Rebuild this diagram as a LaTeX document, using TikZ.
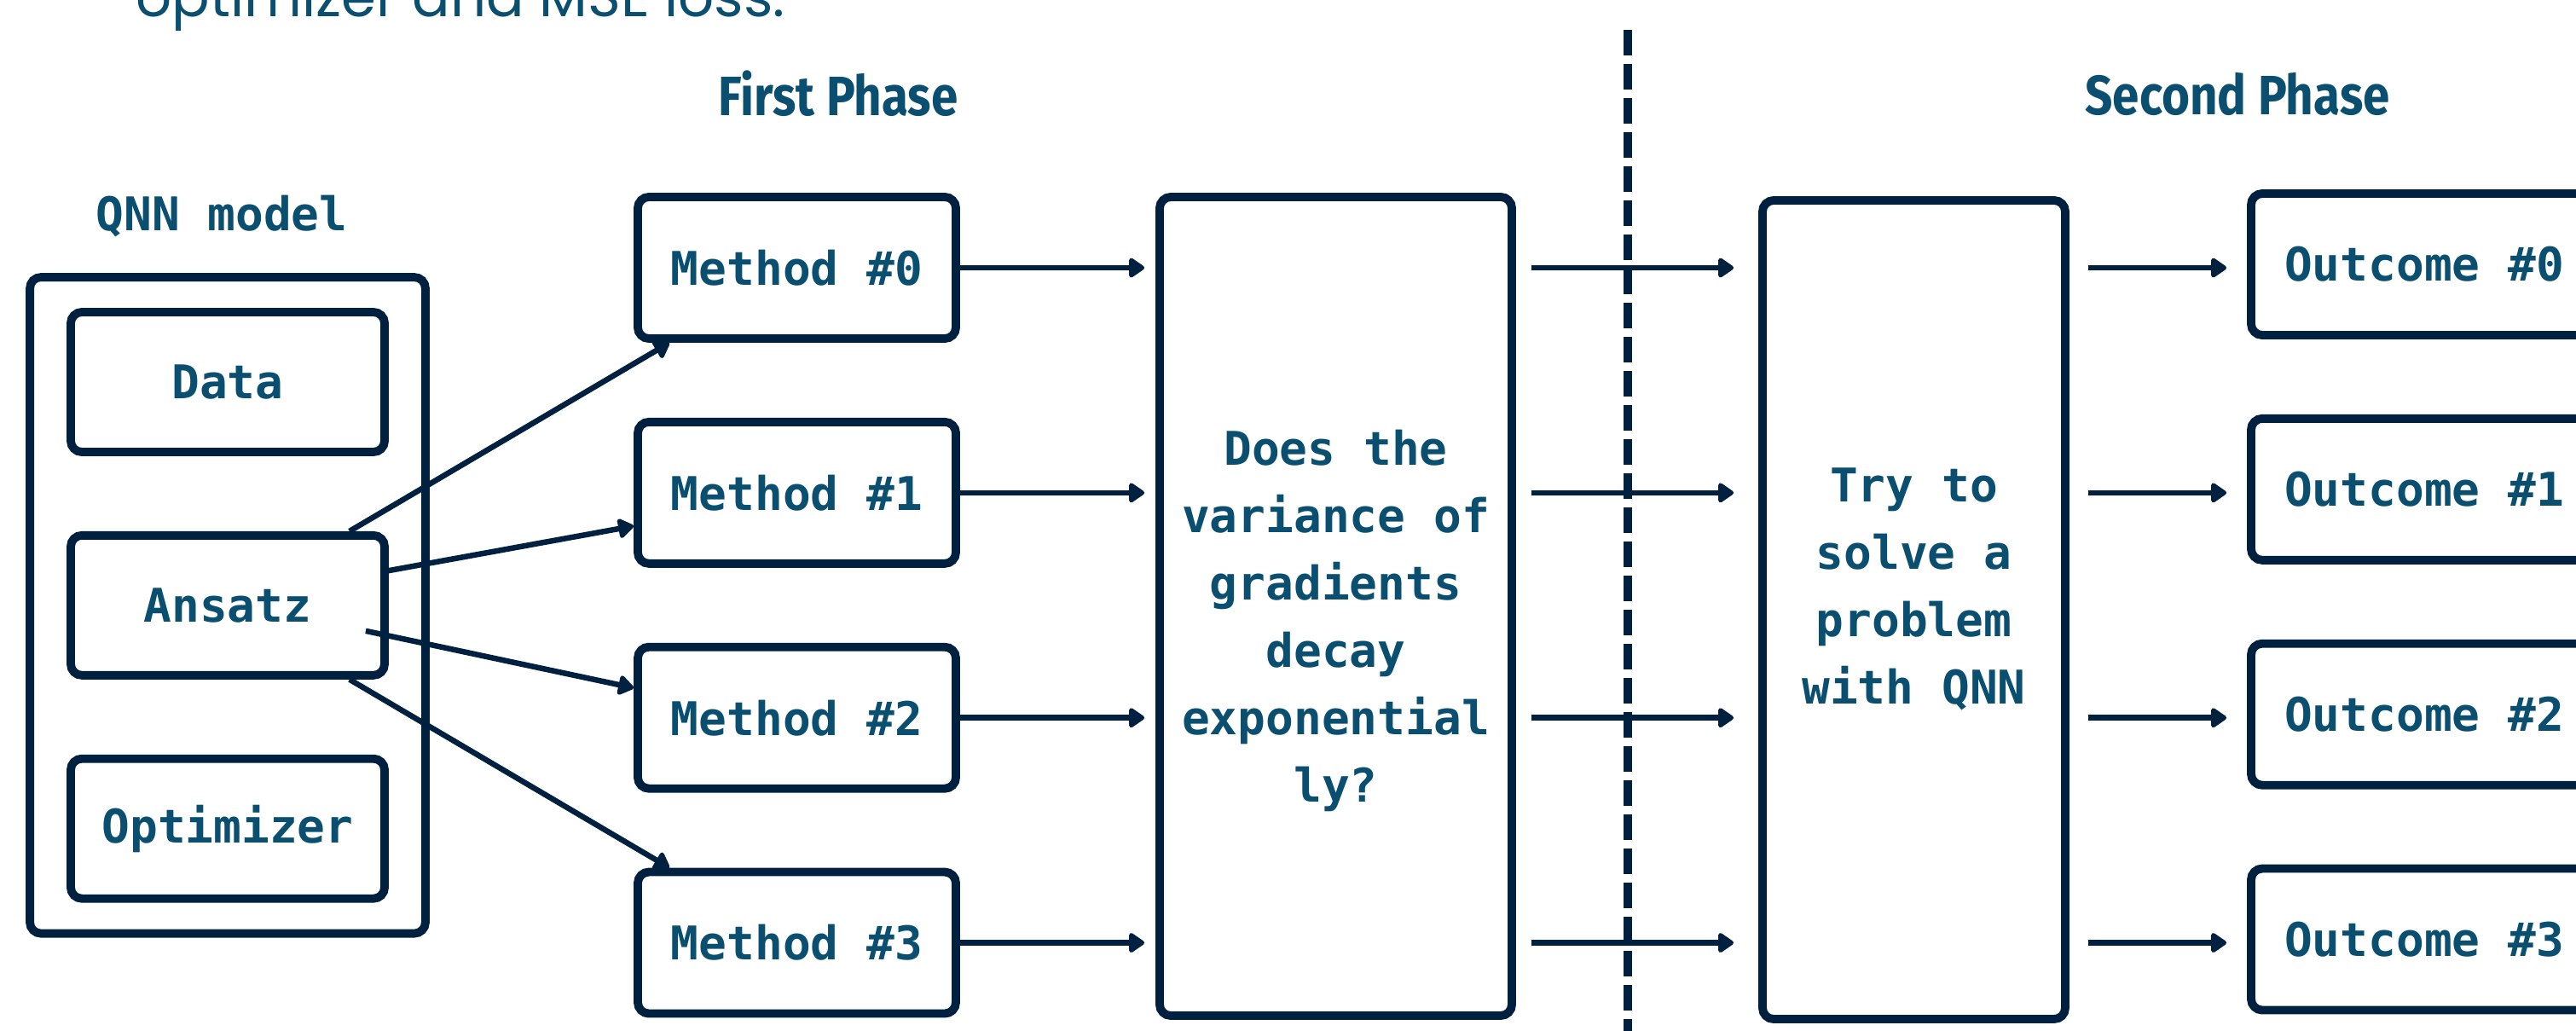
\documentclass[tikz,border=0pt]{standalone}
\usepackage{fontspec}
\usepackage{xcolor}
\usetikzlibrary{positioning,arrows.meta,fit,calc}

\newfontfamily\monofont{DejaVu Sans Mono}
\newfontfamily\headfont[FakeStretch=0.87]{Fira Sans}
\newfontfamily\introfont{Poppins}

\definecolor{lineblue}{HTML}{00203F}
\definecolor{textblue}{HTML}{0A4E70}

\begin{document}
\begin{tikzpicture}[
  node distance = 0.88cm,
  box/.style     = {draw=lineblue, line width=2.8pt, rounded corners=0.13cm,
                    fill=white, text=textblue, align=center, inner sep=0pt,
                    font=\monofont\bfseries\fontsize{15.5}{22.5}\selectfont,
                    minimum height=1.66cm},
  qbox/.style    = {box, minimum width=3.68cm, minimum height=1.64cm},
  mbox/.style    = {box, minimum width=3.73cm},
  obox/.style    = {box, minimum width=4.06cm},
  tallbox/.style = {box, minimum height=9.6cm},
  boxtext/.style = {text=textblue, align=center, inner sep=0pt,
                    font=\monofont\bfseries\fontsize{15.5}{22.5}\selectfont},
  qnnbox/.style  = {draw=lineblue, line width=2.8pt, rounded corners=0.13cm,
                    inner xsep=0.43cm, inner ysep=0.36cm},
  arr/.style     = {-{Triangle[length=0.2cm,width=0.26cm,round]},
                    line width=1.85pt, draw=lineblue},
  divider/.style = {draw=lineblue, line width=2.9pt, dash pattern=on 0.30cm off 0.10cm},
  phase/.style   = {font=\headfont\bfseries\fontsize{18.5}{22}\selectfont, text=textblue},
  label/.style   = {font=\monofont\bfseries\fontsize{15.5}{20}\selectfont, text=textblue},
]
\useasboundingbox (0,0) rectangle (30.21,-12.09);

% ---- text cut off at the top ----
\node[anchor=base west, inner sep=0, text=textblue,
      font=\introfont\fontsize{18.75}{22}\selectfont] (intro) at (1.59,-0.19) {optimizer and MSE loss.};

% ---- QNN model ----
\node[qbox] (data) at (2.67,-4.48) {Data};
\node[qbox, below=of data]   (ansatz) {Ansatz};
\node[qbox, below=of ansatz] (optim)  {Optimizer};
\node[qnnbox, fit=(data)(optim)] (qnn) {};
\node[label, anchor=base] (qnnlbl) at (2.60,-2.70) {QNN model};

% ---- first phase ----
\node[mbox] (m0) at (9.345,-3.14) {Method \#0};
\node[mbox, below=of m0] (m1) {Method \#1};
\node[mbox, below=of m1] (m2) {Method \#2};
\node[mbox, below=of m2] (m3) {Method \#3};
\node[tallbox, minimum width=4.13cm] (quest) at (15.665,-7.11) {};
\node[boxtext] (questtxt) at ([yshift=-0.17cm]quest.center)
  {Does the\\variance of\\gradients\\decay\\exponential\\ly?};

% ---- second phase ----
\node[tallbox, minimum width=3.55cm] (trial) at (22.445,-7.15) {};
\node[boxtext] (trialtxt) at ([yshift=0.24cm]trial.center)
  {Try to\\solve a\\problem\\with QNN};
\node[obox] (o0) at (28.43,-3.10) {Outcome \#0};
\node[obox, below=of o0] (o1) {Outcome \#1};
\node[obox, below=of o1] (o2) {Outcome \#2};
\node[obox, below=of o2] (o3) {Outcome \#3};

% ---- headers ----
\node[phase] (ph1) at (9.83,-1.10)  {First Phase};
\node[phase] (ph2) at (26.24,-1.10) {Second Phase};

% ---- divider ----
\coordinate (dtop) at (19.09,-0.35);
\coordinate (dbot) at (19.09,-12.3);
\draw[divider] (dtop) -- (dbot);

% ---- edges ----
\draw[arr] ($(ansatz.north east)+(-0.46,0)$) -- ($(m0.south west)+(0.42,0)$);
\draw[arr] ($(ansatz.east)+(-0.04,0.40)$)    -- ($(m1.west)+(0,-0.39)$);
\draw[arr] ($(ansatz.east)+(-0.27,-0.30)$)   -- ($(m2.west)+(0,0.35)$);
\draw[arr] ($(ansatz.south east)+(-0.46,0)$) -- ($(m3.north west)+(0.42,0)$);

\foreach \i in {0,...,3} {
  \draw[arr, shorten >=0.13cm] (m\i.east) -- (m\i.east -| quest.west);
  \draw[arr, shorten <=0.18cm, shorten >=0.29cm] (m\i.east -| quest.east) -- (m\i.east -| trial.west);
  \draw[arr, shorten <=0.22cm, shorten >=0.24cm] (m\i.east -| trial.east) -- (m\i.east -| o\i.west);
}

\end{tikzpicture}
\end{document}
